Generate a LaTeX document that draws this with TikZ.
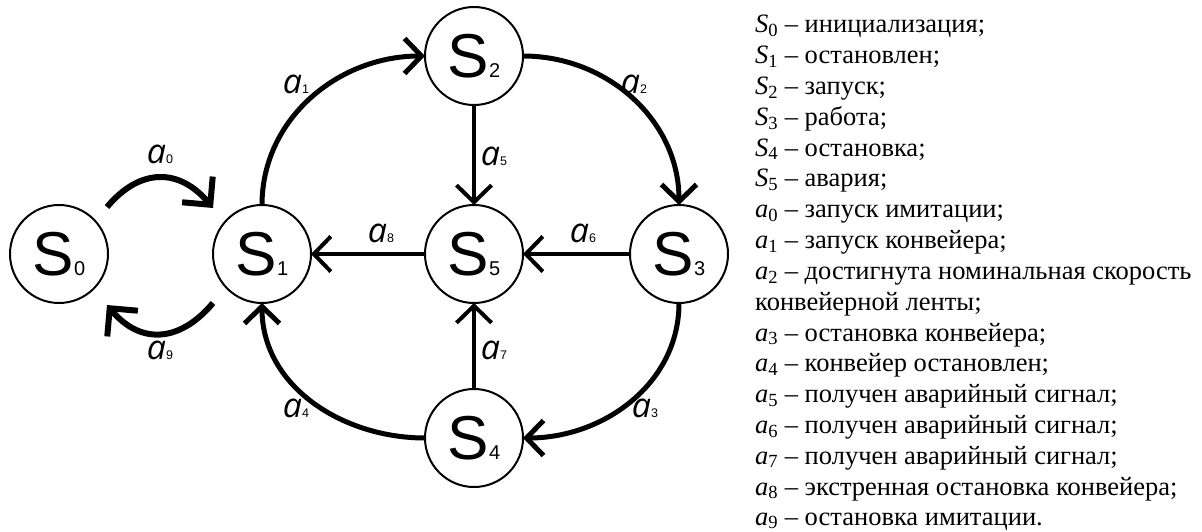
\documentclass[tikz,border=0pt]{standalone}
\usepackage{fontspec}
\setmainfont{Liberation Serif}
\newfontfamily\sff{Liberation Sans}
\newfontfamily\labf{Open Sans}
\usetikzlibrary{arrows.meta}
\newcommand\stxt[1]{{\fontsize{62}{62}\selectfont S}{\fontsize{20}{20}\selectfont #1}}
\newcommand\alab[1]{{\labf\itshape\fontsize{34}{34}\selectfont a}{\sff\fontsize{12.5}{12.5}\selectfont #1}}
\newcommand\lS[1]{\textit{S}\textsubscript{#1}}
\newcommand\la[1]{\textit{a}\textsubscript{#1}}
\begin{document}
\begin{tikzpicture}[x=1pt,y=1pt,
  state/.style={circle, draw, line width=2pt, minimum size=98pt, inner sep=0pt, outer sep=0pt, font=\sff},
  bigarc/.style={line width=5pt, -{Straight Barb[length=17pt,width=35pt]}},
  sidearc/.style={line width=6pt, -{Straight Barb[length=20pt,width=40pt]}},
  straightedge/.style={line width=4pt, -{Straight Barb[length=17pt,width=35pt]}},
  elabel/.style={inner sep=0pt},
  leg/.style={anchor=base west, inner sep=0pt, font=\fontsize{26.5}{30}\selectfont}
]
\useasboundingbox (0,0) rectangle (1202,531);
% states
\node[state] (S0) at (59,277) {\stxt{0}};
\node[state] (S1) at (262,277) {\stxt{1}};
\node[state] (S5) at (474,277) {\stxt{5}};
\node[state] (S3) at (679,277) {\stxt{3}};
\node[state] (S2) at (474,475) {\stxt{2}};
\node[state] (S4) at (474,93) {\stxt{4}};
% free ends
\coordinate (a0s) at ([shift={(48,47)}]S0.center);
\coordinate (a0e) at ([shift={(-49,46)}]S1.center);
\coordinate (a9s) at ([shift={(-49,-49)}]S1.center);
\coordinate (a9e) at ([shift={(48,-51)}]S0.center);
% edges
\draw[sidearc] (a0s) to[out=50,in=130,looseness=1.25] (a0e);
\draw[sidearc] (a9s) to[out=-130,in=-50,looseness=1.25] (a9e);
\draw[bigarc] (S1.north) to[out=90,in=180] (S2.west);
\draw[bigarc] (S2.east) to[out=0,in=90] (S3.north);
\draw[bigarc] (S3.south) to[out=-90,in=0] (S4.east);
\draw[bigarc] (S4.west) to[out=180,in=-90] (S1.south);
\draw[straightedge] (S2) -- (S5);
\draw[straightedge] (S4) -- (S5);
\draw[straightedge] (S3) -- (S5);
\draw[straightedge] (S5) -- (S1);
% edge labels
\node[elabel] (la0) at (160,377) {\alab{0}};
\node[elabel] (la9) at (160,181) {\alab{9}};
\node[elabel] (la1) at (296,447) {\alab{1}};
\node[elabel] (la2) at (634,447) {\alab{2}};
\node[elabel] (la5) at (494,375) {\alab{5}};
\node[elabel] (la8) at (381,298) {\alab{8}};
\node[elabel] (la6) at (583,298) {\alab{6}};
\node[elabel] (la7) at (494,181) {\alab{7}};
\node[elabel] (la4) at (296,123) {\alab{4}};
\node[elabel] (la3) at (645,123) {\alab{3}};
% legend
\node[leg] (g0) at (755,498) {\lS{0} – инициализация;};
\node[leg] (g1) at (755,467.2) {\lS{1} – остановлен;};
\node[leg] (g2) at (755,436.4) {\lS{2} – запуск;};
\node[leg] (g3) at (755,405.6) {\lS{3} – работа;};
\node[leg] (g4) at (755,374.8) {\lS{4} – остановка;};
\node[leg] (g5) at (755,344) {\lS{5} – авария;};
\node[leg] (g6) at (755,313.2) {\la{0} – запуск имитации;};
\node[leg] (g7) at (755,282.4) {\la{1} – запуск конвейера;};
\node[leg] (g8) at (755,251.6) {\la{2} – достигнута номинальная скорость};
\node[leg] (g9) at (755,220.8) {конвейерной ленты;};
\node[leg] (g10) at (755,190) {\la{3} – остановка конвейера;};
\node[leg] (g11) at (755,159.2) {\la{4} – конвейер остановлен;};
\node[leg] (g12) at (755,128.4) {\la{5} – получен аварийный сигнал;};
\node[leg] (g13) at (755,97.6) {\la{6} – получен аварийный сигнал;};
\node[leg] (g14) at (755,66.8) {\la{7} – получен аварийный сигнал;};
\node[leg] (g15) at (755,36) {\la{8} – экстренная остановка конвейера;};
\node[leg] (g16) at (755,6) {\la{9} – остановка имитации.};
\end{tikzpicture}
\end{document}
